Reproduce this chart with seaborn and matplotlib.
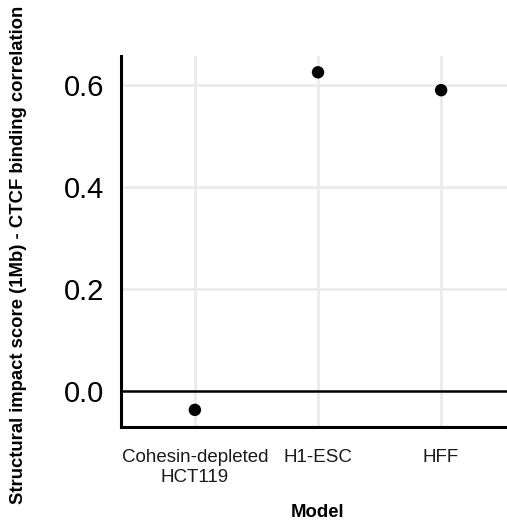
import matplotlib.pyplot as plt
import pandas as pd
import seaborn as sns

models = ["Cohesin-depleted\nHCT119", "H1-ESC", "HFF"]
scores = [-0.037, 0.625, 0.590]
y_ticks = [0.0, 0.2, 0.4, 0.6]

df = pd.DataFrame({"Model": models, "score": scores})

sns.set_style("white")
plt.rcParams["font.family"] = ["Liberation Sans", "DejaVu Sans"]

fig = plt.figure(figsize=(5.07, 5.25), dpi=100)
W, H = 507, 525
ax = fig.add_axes([121 / W, 1 - 427 / H, (515 - 121) / W, (427 - 56) / H])

# grid lines like ggplot theme_minimal
for x in range(len(models)):
    ax.axvline(x, color="#ebebeb", lw=2, zorder=0)
for y in y_ticks[1:]:
    ax.axhline(y, color="#ebebeb", lw=2, zorder=0)
ax.axhline(0, color="black", lw=1.8, zorder=1)

sns.scatterplot(data=df, x="Model", y="score", color="black", s=80,
                edgecolor="none", ax=ax, zorder=3)

ax.set_xlim(-0.6, 2.6)
ax.set_ylim(-0.0706, 0.657)
ax.set_yticks(y_ticks)
ax.set_yticklabels([f"{v:.1f}" for v in y_ticks], fontsize=21)
ax.tick_params(axis="x", labelsize=13.5, length=6, width=2, pad=10,
               colors="black", labelcolor="#1a1a1a")
ax.tick_params(axis="y", length=6, width=2, pad=6, colors="black",
               labelcolor="black")

for side in ["top", "right"]:
    ax.spines[side].set_visible(False)
for side in ["left", "bottom"]:
    ax.spines[side].set_linewidth(2.2)
    ax.spines[side].set_color("black")

ax.set_xlabel("Model", fontsize=13.3, fontweight="bold", labelpad=13,
              color="black")
ax.set_ylabel("Structural impact score (1Mb) - CTCF binding correlation",
              fontsize=13.3, fontweight="bold", color="black")
ax.yaxis.set_label_coords(27 / W, 1 - 255 / H, transform=fig.transFigure)

fig.savefig("out.png", dpi=100)
